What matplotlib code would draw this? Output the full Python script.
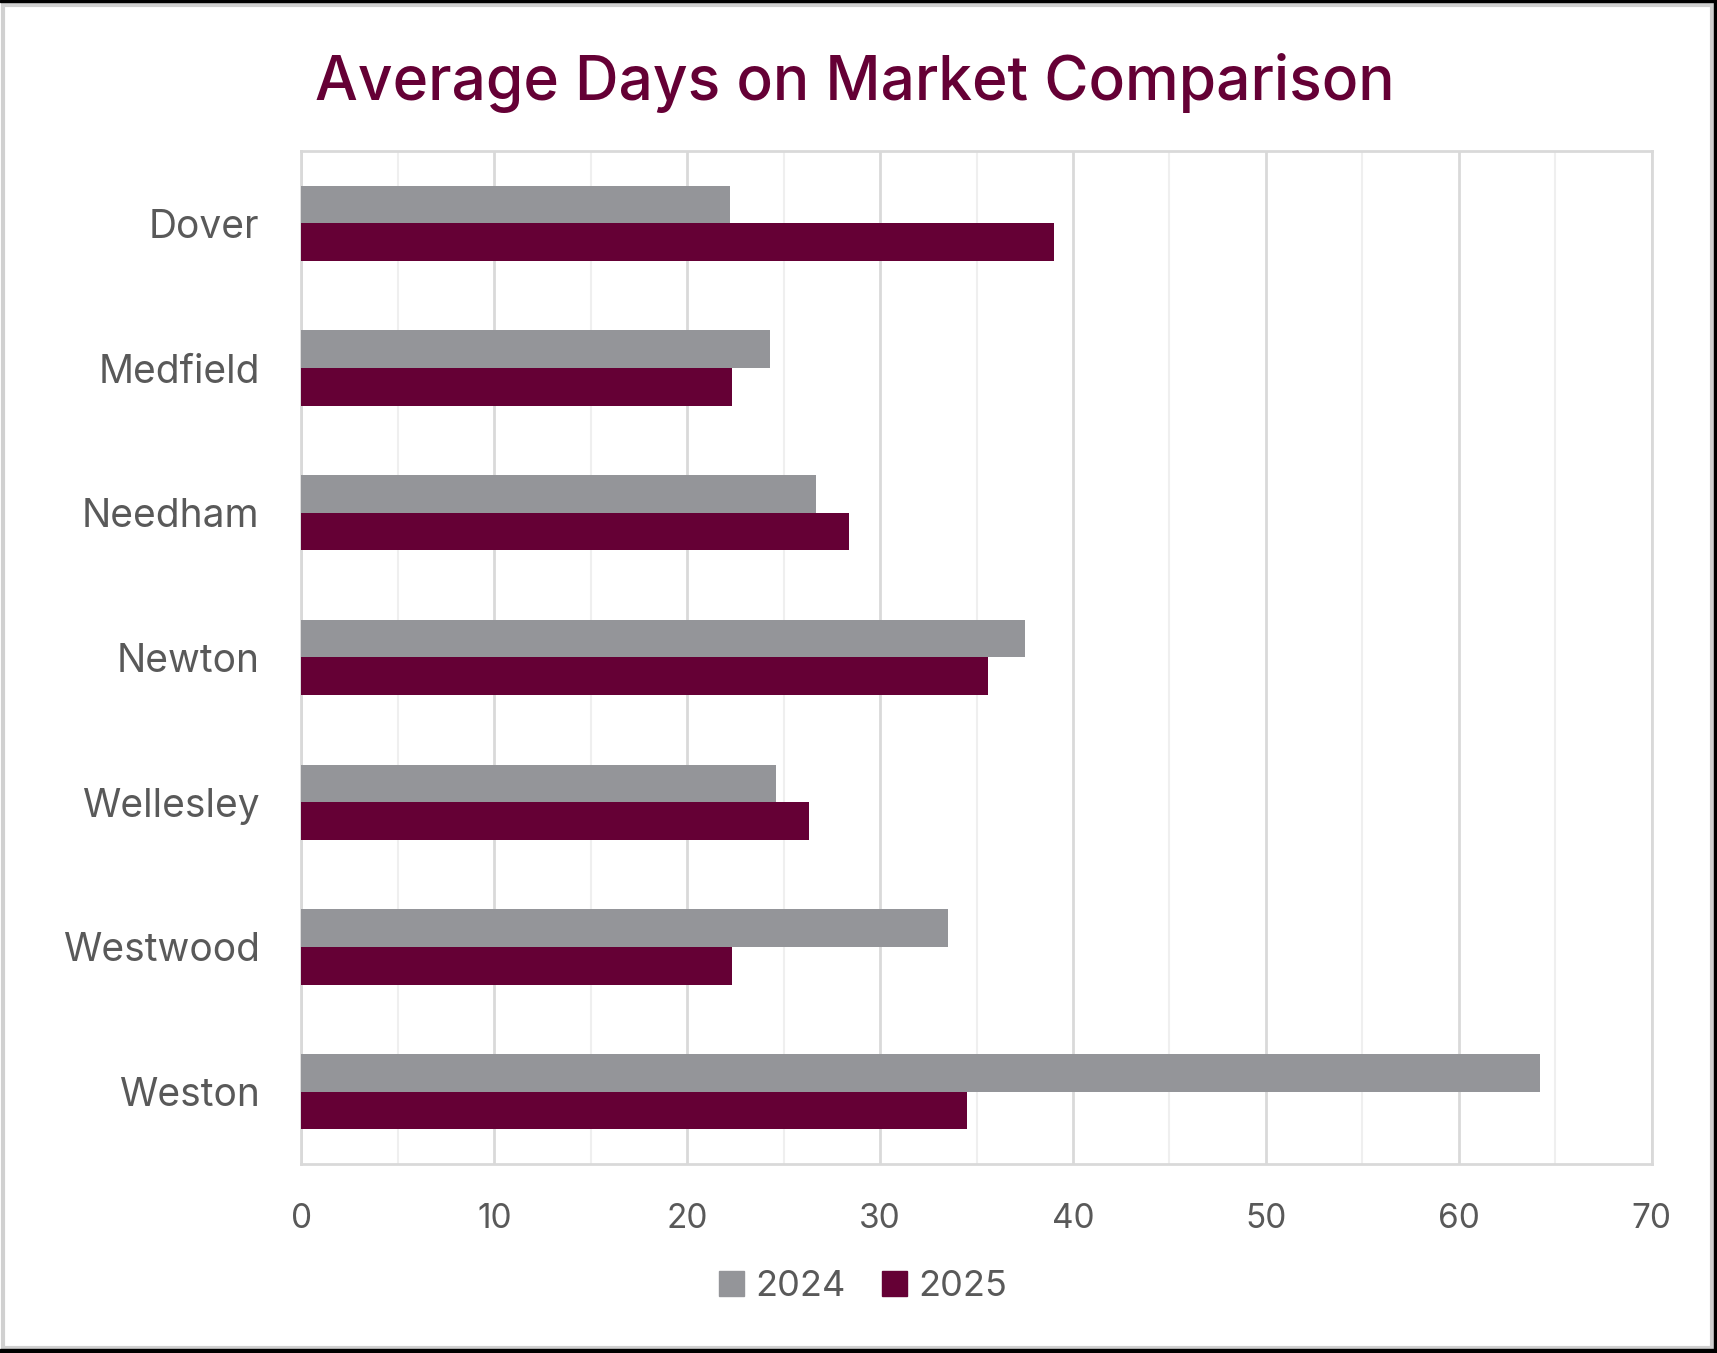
import matplotlib
matplotlib.use("Agg")
import matplotlib.pyplot as plt
from matplotlib.patches import Rectangle, Patch
import numpy as np

plt.rcParams['font.family'] = ['Inter', 'DejaVu Sans']

towns = ["Dover", "Medfield", "Needham", "Newton", "Wellesley", "Westwood", "Weston"]
days_2024 = [22.2, 24.3, 26.7, 37.5, 24.6, 33.5, 64.2]
days_2025 = [39.0, 22.3, 28.4, 35.6, 26.3, 22.3, 34.5]
series_labels = ["2024", "2025"]
x_ticks = [0, 10, 20, 30, 40, 50, 60, 70]

c2024 = "#949599"
c2025 = "#650035"
text_c = "#595959"

fig = plt.figure(figsize=(17.17, 13.53), dpi=100)
ax = fig.add_axes([0.1755, 0.1397, 0.962 - 0.1755, 0.8884 - 0.1397])

y = np.arange(len(towns))
h = 0.26
ax.barh(y - h / 2, days_2024, height=h, color=c2024, label=series_labels[0], zorder=3)
ax.barh(y + h / 2, days_2025, height=h, color=c2025, label=series_labels[1], zorder=3)

ax.set_ylim(len(towns) - 0.5, -0.5)
ax.set_xlim(0, 70)
ax.set_xticks(x_ticks)
ax.set_xticks(np.arange(5, 70, 10), minor=True)
ax.set_yticks(y)
ax.set_yticklabels(towns)

ax.grid(axis='x', which='major', color='#d9d9d9', linewidth=2, zorder=0)
ax.grid(axis='x', which='minor', color='#efefef', linewidth=1.5, zorder=0)
ax.grid(axis='y', visible=False)

for s in ax.spines.values():
    s.set_color('#d9d9d9')
    s.set_linewidth(2)

ax.tick_params(axis='both', which='both', length=0)
ax.tick_params(axis='y', labelsize=28, labelcolor=text_c, pad=30)
ax.tick_params(axis='x', labelsize=24, labelcolor=text_c, pad=28)

fig.text(0.4977, 0.939, "Average Days on Market Comparison", ha='center', va='center',
         fontsize=43.5, color=c2025, fontweight='medium')

handles = [Patch(color=c2024), Patch(color=c2025)]
fig.legend(handles, series_labels, loc='center', bbox_to_anchor=(0.5026, 0.049),
           ncol=2, frameon=False, fontsize=26, labelcolor=text_c,
           handlelength=0.7, handleheight=0.7, handletextpad=0.3, columnspacing=1.0)

# outer frame
fig.patches.append(Rectangle((0.002, 0.004), 0.995, 0.992, transform=fig.transFigure,
                             fill=False, edgecolor='#d0d0d0', linewidth=3))
fig.patches.append(Rectangle((0, 0.9985), 1, 0.0015, transform=fig.transFigure,
                             color='black'))
fig.patches.append(Rectangle((0.998, 0), 0.002, 1, transform=fig.transFigure,
                             color='black'))
fig.patches.append(Rectangle((0, 0), 1, 0.003, transform=fig.transFigure,
                             color='black'))

fig.savefig("out.png", dpi=100)
